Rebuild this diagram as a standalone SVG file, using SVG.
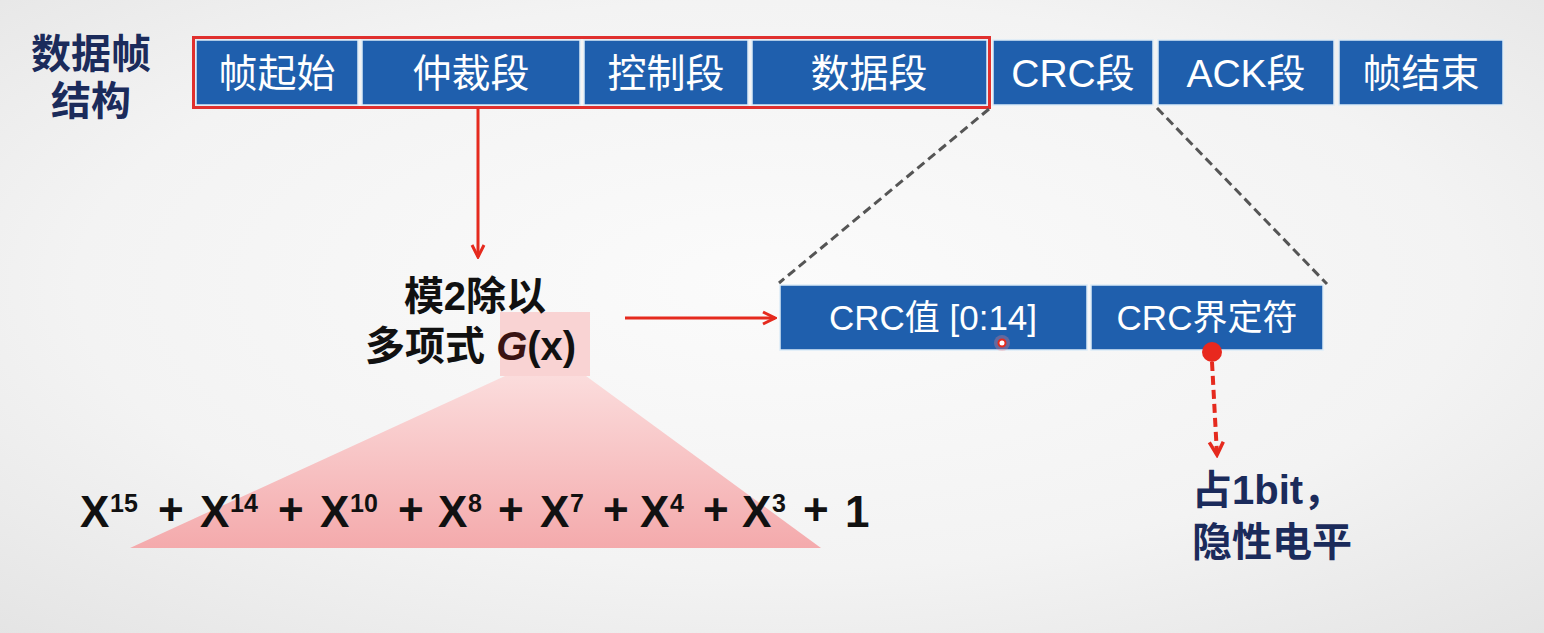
<svg xmlns="http://www.w3.org/2000/svg" width="1544" height="633" viewBox="0 0 1544 633">
<defs>
<radialGradient id="bg" cx="0.5" cy="0.45" r="0.75">
<stop offset="0" stop-color="#fbfbfb"/>
<stop offset="0.6" stop-color="#f3f3f3"/>
<stop offset="1" stop-color="#e4e4e4"/>
</radialGradient>
<linearGradient id="pink" x1="0" y1="0" x2="0" y2="1">
<stop offset="0" stop-color="#fbdcdc"/>
<stop offset="1" stop-color="#f4aaac"/>
</linearGradient>
<marker id="chevBig" viewBox="0 0 16 16" refX="14" refY="8" markerWidth="16" markerHeight="16" markerUnits="userSpaceOnUse" orient="auto">
<path d="M2,2 L14,8 L2,14" fill="none" stroke="#e52a1e" stroke-width="3"/>
</marker>
<marker id="chevDot" viewBox="0 0 18 18" refX="15" refY="9" markerWidth="18" markerHeight="18" markerUnits="userSpaceOnUse" orient="auto">
<path d="M2,2 L15,9 L2,16" fill="none" stroke="#e52a1e" stroke-width="3.5"/>
</marker>
</defs>
<style>
.box{fill:#1f5fad;stroke:#dcebf8;stroke-width:1.5}
.bt{fill:#ffffff;font-family:"Liberation Sans","Noto Sans CJK SC",sans-serif;font-size:39px;text-anchor:middle}
.st{fill:#ffffff;font-family:"Liberation Sans","Noto Sans CJK SC",sans-serif;font-size:35px;text-anchor:middle}
.title{fill:#1b2b5b;font-family:"Liberation Sans","Noto Sans CJK SC",sans-serif;font-size:40px;font-weight:bold;text-anchor:middle}
.blk{fill:#111111;font-family:"Liberation Sans","Noto Sans CJK SC",sans-serif;font-size:40px;font-weight:bold}
.poly{fill:#111111;font-family:"Liberation Sans",sans-serif;font-size:44px;font-weight:bold}
.sup{fill:#111111;font-family:"Liberation Sans",sans-serif;font-size:25px;font-weight:bold}
.navy{fill:#1b2b5b;font-family:"Liberation Sans","Noto Sans CJK SC",sans-serif;font-size:40px;font-weight:bold}
.dash{fill:none;stroke:#555555;stroke-width:3;stroke-dasharray:9 5}
.red{fill:none;stroke:#e52a1e;stroke-width:3}
</style>
<rect x="0" y="0" width="1544" height="633" fill="url(#bg)"/>

<g id="title">
<text class="title" x="91" y="68">数据帧</text>
<text class="title" x="91" y="115">结构</text>
</g>

<g id="frame">
<g id="seg-sof"><rect class="box" x="196" y="40" width="162" height="65"/><text class="bt" x="277" y="87">帧起始</text></g>
<g id="seg-arb"><rect class="box" x="362" y="40" width="218" height="65"/><text class="bt" x="471" y="87">仲裁段</text></g>
<g id="seg-ctrl"><rect class="box" x="584" y="40" width="164" height="65"/><text class="bt" x="666" y="87">控制段</text></g>
<g id="seg-data"><rect class="box" x="752" y="40" width="235" height="65"/><text class="bt" x="869" y="87">数据段</text></g>
<g id="seg-crc"><rect class="box" x="993" y="40" width="160" height="65"/><text class="bt" x="1073" y="87">CRC段</text></g>
<g id="seg-ack"><rect class="box" x="1158" y="40" width="176" height="65"/><text class="bt" x="1246" y="87">ACK段</text></g>
<g id="seg-eof"><rect class="box" x="1339" y="40" width="164" height="65"/><text class="bt" x="1421" y="87">帧结束</text></g>
<rect id="highlight" x="193.5" y="37.5" width="796" height="70" fill="none" stroke="#e0302e" stroke-width="3"/>
</g>

<g id="gx-shape">
<polygon points="505,376 586,376 821,548 130,548" fill="url(#pink)"/>
<rect x="500" y="312" width="90" height="64" fill="#f9d3d3"/>
</g>

<g id="mod2">
<text class="blk" x="475" y="310" text-anchor="middle">模2除以</text>
<text class="blk" x="365" y="360">多项式 <tspan font-style="italic" fill="#3a1212">G</tspan><tspan>(x)</tspan></text>
</g>

<g id="polynomial">
<text class="poly" x="80" y="527">X</text><text class="sup" x="110" y="512">15</text>
<text class="poly" x="158" y="525">+</text>
<text class="poly" x="200" y="527">X</text><text class="sup" x="230" y="512">14</text>
<text class="poly" x="278" y="525">+</text>
<text class="poly" x="320" y="527">X</text><text class="sup" x="350" y="512">10</text>
<text class="poly" x="398" y="525">+</text>
<text class="poly" x="438" y="527">X</text><text class="sup" x="468" y="512">8</text>
<text class="poly" x="498" y="525">+</text>
<text class="poly" x="540" y="527">X</text><text class="sup" x="570" y="512">7</text>
<text class="poly" x="603" y="525">+</text>
<text class="poly" x="640" y="527">X</text><text class="sup" x="670" y="512">4</text>
<text class="poly" x="703" y="525">+</text>
<text class="poly" x="742" y="527">X</text><text class="sup" x="772" y="512">3</text>
<text class="poly" x="803" y="525">+</text>
<text class="poly" x="845" y="527">1</text>
</g>

<g id="crc-detail">
<g id="crc-value"><rect class="box" x="780" y="285" width="307" height="65"/><text class="st" x="933" y="330">CRC值 [0:14]</text></g>
<g id="crc-delim"><rect class="box" x="1091" y="285" width="232" height="65"/><text class="st" x="1207" y="330">CRC界定符</text></g>
</g>

<g id="cursor">
<circle cx="1002" cy="343" r="8" fill="#ff8080" opacity="0.3"/>
<circle cx="1002" cy="343" r="3.5" fill="#ffffff" stroke="#e52a1e" stroke-width="2"/>
</g>

<g id="note">
<text class="navy" x="1192" y="504">占1bit，</text>
<text class="navy" x="1192" y="556">隐性电平</text>
</g>

<g id="connectors">
<line class="red" x1="478" y1="108" x2="478" y2="257" marker-end="url(#chevBig)"/>
<line class="red" x1="625" y1="318" x2="775" y2="318" marker-end="url(#chevBig)"/>
<line class="dash" x1="989" y1="109" x2="779" y2="283"/>
<line class="dash" x1="1157" y1="108" x2="1327" y2="284"/>
<circle cx="1212" cy="352" r="10" fill="#e8281e"/>
<line x1="1212" y1="362" x2="1217" y2="455" fill="none" stroke="#e52a1e" stroke-width="4" stroke-dasharray="9 5" marker-end="url(#chevDot)"/>
</g>
</svg>
